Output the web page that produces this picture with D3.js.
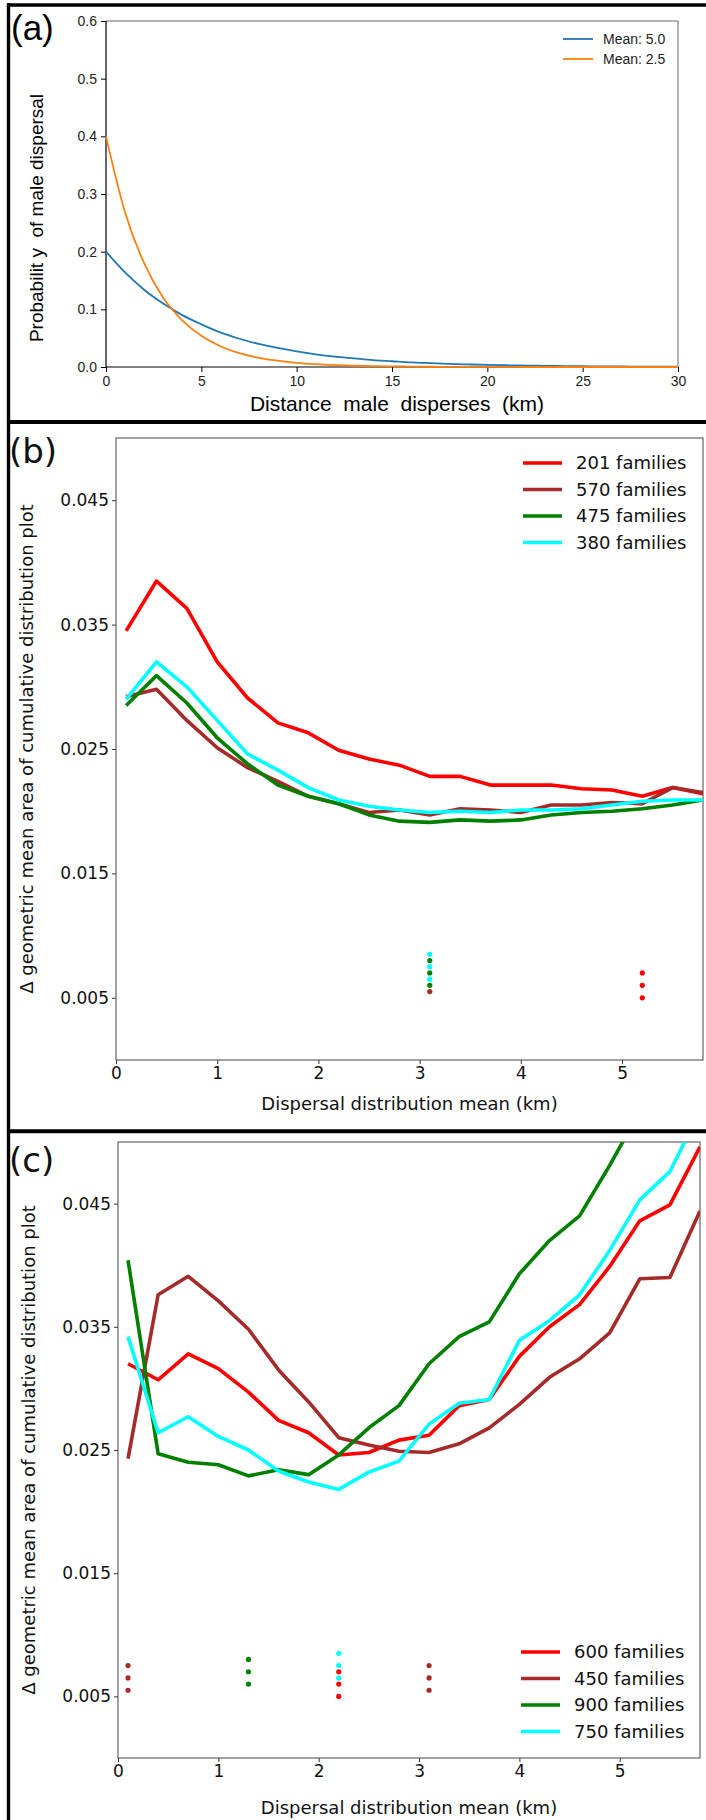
<!DOCTYPE html>
<html>
<head>
<meta charset="utf-8">
<script src="https://cdn.jsdelivr.net/npm/d3@7"></script>
<style>
body { margin: 0; background: #fff; }
svg { display: block; }
.sansA text { font-family: "Liberation Sans", Arial, sans-serif; }
.sansB text { font-family: "DejaVu Sans", sans-serif; }
</style>
</head>
<body>
<div id="chart"></div>
<script>
// ---------- panel (a) : dispersal curves ----------
const distX = [0,1,2,3,4,5,6,7,8,9,10,11,12,13,14,15,16,17,18,19,20,21,22,23,24,25,26,27,28,29,30];
const mean50 = [0.200,0.164,0.134,0.110,0.090,0.074,0.060,0.049,0.040,0.033,0.027,0.022,0.018,0.015,0.012,0.010,
                0.008,0.0067,0.0055,0.0045,0.0037,0.0030,0.0025,0.0020,0.0016,0.0013,0.0011,0.0009,0.0007,0.0006,0.0005];
const mean25 = [0.400,0.268,0.180,0.120,0.081,0.054,0.036,0.024,0.016,0.011,0.0073,0.0049,0.0033,0.0022,0.0015,0.0010,
                0.0007,0.0004,0.0003,0.0002,0.0001,0.0001,0,0,0,0,0,0,0,0,0];
const aXTicks = [0,5,10,15,20,25,30];
const aYTicks = [0,0.1,0.2,0.3,0.4,0.5,0.6];
const aLegend = ['Mean: 5.0','Mean: 2.5'];

// ---------- panels (b) and (c) ----------
const meanX = [0.1,0.4,0.7,1.0,1.3,1.6,1.9,2.2,2.5,2.8,3.1,3.4,3.7,4.0,4.3,4.6,4.9,5.2,5.5,5.8];

const b201 = [0.0345,0.0385,0.0363,0.0320,0.0291,0.0271,0.0263,0.0249,0.0242,0.0237,0.0228,0.0228,0.0221,0.0221,0.0221,0.0218,0.0217,0.0212,0.0219,0.0214];
const b570 = [0.0292,0.0298,0.0273,0.0251,0.0235,0.0224,0.0212,0.0206,0.0199,0.0201,0.0197,0.0202,0.0201,0.0199,0.0205,0.0205,0.0207,0.0206,0.0219,0.0215];
const b475 = [0.0285,0.0309,0.0287,0.0259,0.0238,0.0221,0.0212,0.0206,0.0197,0.0192,0.0191,0.0193,0.0192,0.0193,0.0197,0.0199,0.0200,0.0202,0.0205,0.0209];
const b380 = [0.0290,0.0320,0.0300,0.0273,0.0246,0.0233,0.0219,0.0209,0.0204,0.0201,0.0199,0.0200,0.0199,0.0201,0.0201,0.0202,0.0205,0.0208,0.0209,0.0209];
const bNames = ['201 families','570 families','475 families','380 families'];
// significance dots: [x, y, series index]
const bDots = [[3.1,0.0055,1],[3.1,0.006,2],[3.1,0.007,2],[3.1,0.008,2],[3.1,0.0065,3],[3.1,0.0075,3],[3.1,0.0085,3],
               [5.2,0.005,0],[5.2,0.006,0],[5.2,0.007,0]];

const c600 = [0.0320,0.0307,0.0328,0.0316,0.0297,0.0274,0.0264,0.0246,0.0248,0.0258,0.0262,0.0286,0.0291,0.0326,0.0350,0.0368,0.0399,0.0436,0.0449,0.0496];
const c450 = [0.0243,0.0376,0.0391,0.0371,0.0348,0.0315,0.0289,0.0260,0.0254,0.0249,0.0248,0.0255,0.0268,0.0287,0.0309,0.0324,0.0345,0.0389,0.0390,0.0444];
const c900 = [0.0404,0.0247,0.0240,0.0238,0.0229,0.0234,0.0230,0.0246,0.0268,0.0286,0.0320,0.0342,0.0354,0.0393,0.0420,0.0440,0.0481,0.0525,0.0560,0.0590];
const c750 = [0.0342,0.0264,0.0277,0.0261,0.0250,0.0233,0.0224,0.0218,0.0232,0.0241,0.0271,0.0288,0.0291,0.0339,0.0355,0.0376,0.0412,0.0453,0.0476,0.0525];
const cNames = ['600 families','450 families','900 families','750 families'];
const cDots = [[0.1,0.0055,1],[0.1,0.0065,1],[0.1,0.0075,1],
               [1.3,0.006,2],[1.3,0.007,2],[1.3,0.008,2],
               [2.2,0.0065,3],[2.2,0.0075,3],[2.2,0.0085,3],[2.2,0.005,0],[2.2,0.006,0],[2.2,0.007,0],
               [3.1,0.0055,1],[3.1,0.0065,1],[3.1,0.0075,1]];

const meanXTicks = [0,1,2,3,4,5];
const meanYTicks = [0.005,0.015,0.025,0.035,0.045];
const lineColors = ['#ff0000','#a52a2a','#008000','#00ffff'];

const svgWidth = 706, svgHeight = 1820;

let svg = d3.select('#chart')
    .append('svg')
    .attr('width', svgWidth)
    .attr('height', svgHeight);

// outer frame of the figure
let frame = svg.append('g').attr('stroke', '#000');
frame.append('line').attr('x1', 7).attr('x2', svgWidth).attr('y1', 5).attr('y2', 5).attr('stroke-width', 3.4);
frame.append('line').attr('x1', 8.5).attr('x2', 8.5).attr('y1', 3.3).attr('y2', svgHeight).attr('stroke-width', 3.4);
frame.append('line').attr('x1', 7).attr('x2', svgWidth).attr('y1', 422).attr('y2', 422).attr('stroke-width', 4);
frame.append('line').attr('x1', 7).attr('x2', svgWidth).attr('y1', 1131.3).attr('y2', 1131.3).attr('stroke-width', 4);

//=================================================================
//                         panel (a)
//=================================================================
let pa = { left: 106, right: 678, top: 21, bottom: 367 };
let gA = svg.append('g').classed('sansA', true);

let xA = d3.scaleLinear().domain([0, 30]).range([pa.left, pa.right]);
let yA = d3.scaleLinear().domain([0, 0.6]).range([pa.bottom, pa.top]);

gA.append('g')
    .attr('transform', `translate(0,${pa.bottom})`)
    .call(d3.axisBottom(xA).tickValues(aXTicks).tickSize(5).tickPadding(4))
    .call(g => g.select('.domain').remove())
    .call(g => g.selectAll('text').attr('font-size', 14).attr('fill', '#222'));

gA.append('g')
    .attr('transform', `translate(${pa.left},0)`)
    .call(d3.axisLeft(yA).tickValues(aYTicks).tickFormat(d3.format('.1f')).tickSize(5).tickPadding(4))
    .call(g => g.select('.domain').remove())
    .call(g => g.selectAll('text').attr('font-size', 14).attr('fill', '#222'));

gA.append('path')
    .attr('d', `M${pa.left},${pa.top}H${pa.right}V${pa.bottom}`)
    .attr('fill', 'none').attr('stroke', '#666').attr('stroke-width', 1);
gA.append('path')
    .attr('d', `M${pa.left},${pa.top}V${pa.bottom}H${pa.right}`)
    .attr('fill', 'none').attr('stroke', '#000').attr('stroke-width', 1.2);

let lineA = d3.line()
    .x((d, i) => xA(distX[i]))
    .y(d => yA(d))
    .curve(d3.curveMonotoneX);

gA.append('path').datum(mean50)
    .attr('d', lineA).attr('fill', 'none').attr('stroke', '#1f77b4').attr('stroke-width', 1.8);
gA.append('path').datum(mean25)
    .attr('d', lineA).attr('fill', 'none').attr('stroke', '#ff7f0e').attr('stroke-width', 1.8);

let legA = gA.append('g');
legA.selectAll('line')
    .data(aLegend)
    .enter()
    .append('line')
    .attr('x1', 563).attr('x2', 593)
    .attr('y1', (d, i) => 39 + i * 20).attr('y2', (d, i) => 39 + i * 20)
    .attr('stroke', (d, i) => i === 0 ? '#1f77b4' : '#ff7f0e')
    .attr('stroke-width', 1.8);
legA.selectAll('text')
    .data(aLegend)
    .enter()
    .append('text')
    .attr('x', 603).attr('y', (d, i) => 39 + i * 20)
    .attr('dy', '0.36em')
    .attr('font-size', 14).attr('fill', '#222')
    .text(d => d);

gA.append('text')
    .attr('x', 397).attr('y', 411)
    .attr('text-anchor', 'middle')
    .attr('font-size', 21)
    .style('white-space', 'pre')
    .text('Distance  male  disperses  (km)');

gA.append('text')
    .attr('transform', 'translate(43,218)rotate(-90)')
    .attr('text-anchor', 'middle')
    .attr('font-size', 19)
    .style('white-space', 'pre')
    .text('Probabilit y  of male dispersal');

gA.append('text')
    .attr('x', 11).attr('y', 40)
    .attr('font-size', 35)
    .text('(a)');

//=================================================================
//                    panels (b) and (c)
//=================================================================
function drawMeanPanel(box, series, names, dots, tag, legendX, legendY, labelX, tagY, xLabelGap) {
    let g = svg.append('g').classed('sansB', true);

    let x = d3.scaleLinear().domain([0, 5.8]).range([box.left, box.right]);
    let y = d3.scaleLinear().domain([0, 0.05]).range([box.bottom, box.top]);

    let clipId = 'clip-' + tag;
    g.append('clipPath').attr('id', clipId)
        .append('rect')
        .attr('x', box.left).attr('y', box.top)
        .attr('width', box.right - box.left).attr('height', box.bottom - box.top);

    g.append('g')
        .attr('transform', `translate(0,${box.bottom})`)
        .call(d3.axisBottom(x).tickValues(meanXTicks).tickFormat(d3.format('d')).tickSize(4).tickPadding(3))
        .call(a => a.select('.domain').remove())
        .call(a => a.selectAll('line').attr('stroke', '#333'))
        .call(a => a.selectAll('text').attr('font-size', 17).attr('fill', '#111'));

    g.append('g')
        .attr('transform', `translate(${box.left},0)`)
        .call(d3.axisLeft(y).tickValues(meanYTicks).tickFormat(d3.format('.3f')).tickSize(4).tickPadding(3))
        .call(a => a.select('.domain').remove())
        .call(a => a.selectAll('line').attr('stroke', '#333'))
        .call(a => a.selectAll('text').attr('font-size', 17).attr('fill', '#111'));

    g.append('rect')
        .attr('x', box.left).attr('y', box.top)
        .attr('width', box.right - box.left).attr('height', box.bottom - box.top)
        .attr('fill', 'none').attr('stroke', '#444').attr('stroke-width', 1);

    let line = d3.line()
        .x((d, i) => x(meanX[i]))
        .y(d => y(d));

    g.append('g').attr('clip-path', `url(#${clipId})`)
        .selectAll('path')
        .data(series)
        .enter()
        .append('path')
        .attr('d', line)
        .attr('fill', 'none')
        .attr('stroke', (d, i) => lineColors[i])
        .attr('stroke-width', 3.6)
        .attr('stroke-linejoin', 'round');

    g.append('g').selectAll('circle')
        .data(dots)
        .enter()
        .append('circle')
        .attr('cx', d => x(d[0]))
        .attr('cy', d => y(d[1]))
        .attr('r', 2.6)
        .attr('fill', d => lineColors[d[2]]);

    let leg = g.append('g');
    leg.selectAll('line')
        .data(names)
        .enter()
        .append('line')
        .attr('x1', legendX).attr('x2', legendX + 39)
        .attr('y1', (d, i) => legendY + i * 26.5).attr('y2', (d, i) => legendY + i * 26.5)
        .attr('stroke', (d, i) => lineColors[i])
        .attr('stroke-width', 3.6);
    leg.selectAll('text')
        .data(names)
        .enter()
        .append('text')
        .attr('x', legendX + 53).attr('y', (d, i) => legendY + i * 26.5)
        .attr('dy', '0.36em')
        .attr('font-size', 18).attr('fill', '#111')
        .text(d => d);

    g.append('text')
        .attr('x', (box.left + box.right) / 2).attr('y', box.bottom + xLabelGap)
        .attr('text-anchor', 'middle')
        .attr('font-size', 18).attr('fill', '#111')
        .text('Dispersal distribution mean (km)');

    g.append('text')
        .attr('transform', `translate(${labelX},${(box.top + box.bottom) / 2})rotate(-90)`)
        .attr('text-anchor', 'middle')
        .attr('font-size', 18).attr('fill', '#111')
        .text('\u0394 geometric mean area of cumulative distribution plot');

    g.append('text')
        .attr('x', 9).attr('y', tagY)
        .attr('font-size', 34).attr('fill', '#111')
        .text('(' + tag + ')');
}

drawMeanPanel({ left: 116, right: 703, top: 438, bottom: 1060 },
    [b201, b570, b475, b380], bNames, bDots, 'b', 523, 463, 33, 463, 50);

drawMeanPanel({ left: 118, right: 700, top: 1142, bottom: 1758 },
    [c600, c450, c900, c750], cNames, cDots, 'c', 521, 1652, 35, 1172, 56);
</script>
</body>
</html>
